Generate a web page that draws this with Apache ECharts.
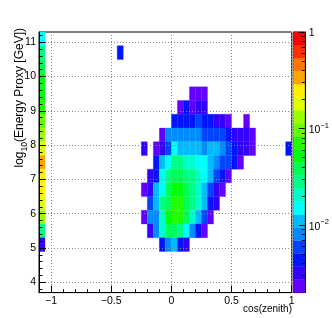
<!DOCTYPE html>
<html><head><meta charset="utf-8">
<script src="https://cdn.jsdelivr.net/npm/echarts@6/dist/echarts.min.js"></script>
<style>html,body{margin:0;padding:0;background:#fff}#c{width:332px;height:318px}</style>
</head><body><div id="c"></div>
<script>
// ---- data ----
const cosBinWidth = 0.05;
const logEBinWidth = 0.4;
const blobCosLow = [-0.25,-0.2,-0.15,-0.1,-0.05,0,0.05,0.1,0.15,0.2,0.25,0.3,0.35,0.4,0.45,0.5,0.55,0.6,0.65];
const blobLogELow = [9.3, 8.9, 8.5, 8.1, 7.7, 7.3, 6.9, 6.5, 6.1, 5.7, 5.3, 4.9];
const _ = null;
const blobValues = [
  [_,_,_,_,_,_,_,_,0.0023,0.0023,0.0023,_,_,_,_,_,_,_,_],
  [_,_,_,_,_,_,0.0023,0.0044,0.0023,0.0032,0.0032,_,_,_,_,_,_,_,_],
  [_,_,_,_,_,0.0044,0.0044,0.0044,0.0044,0.0059,0.0044,0.0044,0.0032,0.0032,0.0023,_,_,0.0023,_],
  [_,_,_,0.0023,0.0081,0.0081,0.0081,0.0081,0.0081,0.0081,0.0059,0.0059,0.0059,0.0059,0.0044,0.0032,0.0032,0.0032,0.0023],
  [0.0032,_,0.0023,0.0032,0.0059,0.015,0.011,0.011,0.011,0.011,0.0081,0.011,0.011,0.0081,0.0059,0.0044,0.0032,0.0032,0.0023],
  [_,_,0.0044,0.011,0.015,0.028,0.028,0.021,0.021,0.015,0.015,0.011,0.0081,0.0059,0.0059,0.0044,0.0023,_,_],
  [_,0.0032,0.0044,0.015,0.028,0.038,0.038,0.028,0.028,0.021,0.015,0.011,0.0059,0.0044,0.0023,_,_,_,_],
  [0.0023,0.0032,0.011,0.015,0.038,0.052,0.052,0.038,0.028,0.021,0.011,0.0059,0.0032,0.0023,_,_,_,_,_],
  [_,0.0059,0.011,0.028,0.038,0.071,0.071,0.038,0.028,0.021,0.011,0.0044,0.0032,_,_,_,_,_,_],
  [0.0023,0.0081,0.0081,0.021,0.052,0.071,0.071,0.038,0.021,0.011,0.0059,0.0023,_,_,_,_,_,_,_],
  [_,0.0032,0.0081,0.021,0.038,0.038,0.028,0.015,0.0081,0.0044,0.0023,_,_,_,_,_,_,_,_],
  [_,_,_,0.0044,0.0081,0.011,0.0044,0.0032,_,_,_,_,_,_,_,_,_,_,_]
];
const stripCosLow = -1.1;
const stripLogELow = [10.9,10.5,10.1,9.7,9.3,8.9,8.5,8.1,7.7,7.3,6.9,6.5,6.1,5.7,5.3,4.9];
const stripValues  = [0.015,0.028,0.038,0.052,0.052,0.071,0.097,0.13,0.18,0.34,0.25,0.25,0.18,0.13,0.028,0.0032];
const extraCells = [[-0.45, 10.5, 0.0044], [0.95, 7.7, 0.0044]];
const zRange = [0.002, 1];
const xRange = [-1.1, 1.0];
const yRange = [3.7, 11.3];
const xMajorTicks = [-1, -0.5, 0, 0.5, 1];
const xMinorTicks = [-0.9,-0.8,-0.7,-0.6,-0.4,-0.3,-0.2,-0.1,0.1,0.2,0.3,0.4,0.6,0.7,0.8,0.9];
const yMajorTicks = [4,5,6,7,8,9,10,11];
const yMinorTicks = [3.8,4.2,4.4,4.6,4.8,5.2,5.4,5.6,5.8,6.2,6.4,6.6,6.8,7.2,7.4,7.6,7.8,8.2,8.4,8.6,8.8,9.2,9.4,9.6,9.8,10.2,10.4,10.6,10.8,11.2];
const zMajorTicks = [0.01, 0.1, 1];
const zMinorTicks = [0.003,0.004,0.005,0.006,0.007,0.008,0.009,0.02,0.03,0.04,0.05,0.06,0.07,0.08,0.09,0.2,0.3,0.4,0.5,0.6,0.7,0.8,0.9];
const palette = ['#6300ff','#3300ff','#0014ff','#0044ff','#008bff','#00bbff','#00fffc','#00ffcc','#00ff85','#00ff55',
                 '#00ff0e','#22ff00','#69ff00','#99ff00','#e0ff00','#ffee00','#ffa700','#ff7700','#ff3000','#ff0000'];

// ---- build ----
const cells = [];
blobLogELow.forEach((y, r) => blobValues[r].forEach((v, c) => { if (v != null) cells.push([blobCosLow[c], y, v]); }));
stripLogELow.forEach((y, r) => cells.push([stripCosLow, y, stripValues[r]]));
extraCells.forEach(c => cells.push(c));

const lzMin = Math.log10(zRange[0]), lzMax = Math.log10(zRange[1]);
const nLev = palette.length, lStep = (lzMax - lzMin) / nLev;
function colorFor(v) {
  let k = Math.floor((Math.log10(v) - lzMin) / lStep);
  k = Math.max(0, Math.min(nLev - 1, k));
  return palette[k];
}
const bands = palette.map((c, k) => [lzMin + k * lStep, k]);

const FONT = 'Liberation Sans';
const fmtX = v => v === 0 ? '0' : (v < 0 ? '\u2212' + Math.abs(v) : String(v));
const fmtZ = v => { const e = Math.round(v); return e === 0 ? '{b|1}' : '{b|10}{s|\u2212' + Math.abs(e) + '}'; };

const chart = echarts.init(document.getElementById('c'), null, {renderer: 'canvas'});
const tickLine = {color: '#000', width: 1};
const noLine = {show: false, onZero: false};
chart.setOption({
  animation: false,
  grid: [
    {left: 39, top: 32, width: 252.7, height: 260.6, show: true, borderColor: '#000', borderWidth: 1, backgroundColor: 'transparent'},
    {left: 293.3, top: 32, width: 16, height: 260.6, show: true, borderColor: '#000', borderWidth: 1}
  ],
  xAxis: [
    {gridIndex: 0, type: 'value', min: xRange[0], max: xRange[1], position: 'bottom', z: 5,
     axisLine: {show: true, onZero: false, lineStyle: tickLine},
     axisTick: {show: true, inside: true, length: 7, customValues: xMajorTicks, lineStyle: tickLine},
     axisLabel: {customValues: xMajorTicks, formatter: fmtX, fontFamily: FONT, fontSize: 10.5, color: '#000', margin: 3},
     splitLine: {show: true, lineStyle: {color: '#888', type: [1, 2], width: 1}}},
    {gridIndex: 0, type: 'value', min: xRange[0], max: xRange[1], position: 'bottom', z: 5,
     axisLine: noLine, axisLabel: {show: false}, splitLine: {show: false},
     axisTick: {show: true, inside: true, length: 3.5, customValues: xMinorTicks, lineStyle: tickLine}},
    {gridIndex: 1, type: 'value', min: 0, max: 1, show: false, axisLine: noLine}
  ],
  yAxis: [
    {gridIndex: 0, type: 'value', min: yRange[0], max: yRange[1], position: 'left', z: 5,
     axisLine: {show: true, onZero: false, lineStyle: tickLine},
     axisTick: {show: true, inside: true, length: 7, customValues: yMajorTicks, lineStyle: tickLine},
     axisLabel: {customValues: yMajorTicks, fontFamily: FONT, fontSize: 10.5, color: '#000', margin: 3},
     splitLine: {show: true, lineStyle: {color: '#888', type: [1, 2], width: 1}}},
    {gridIndex: 0, type: 'value', min: yRange[0], max: yRange[1], position: 'left', z: 5,
     axisLine: noLine, axisLabel: {show: false}, splitLine: {show: false},
     axisTick: {show: true, inside: true, length: 3.5, customValues: yMinorTicks, lineStyle: tickLine}},
    {gridIndex: 1, type: 'value', min: lzMin, max: lzMax, position: 'right', z: 5,
     axisLine: {show: true, onZero: false, lineStyle: tickLine}, splitLine: {show: false},
     axisTick: {show: true, inside: true, length: 6, customValues: zMajorTicks.map(Math.log10), lineStyle: tickLine},
     axisLabel: {customValues: zMajorTicks.map(Math.log10), formatter: fmtZ, margin: 4, color: '#000',
       rich: {b: {fontFamily: FONT, fontSize: 10.5, lineHeight: 14, verticalAlign: 'bottom', color: '#000'},
              s: {fontFamily: FONT, fontSize: 7.5, lineHeight: 8, verticalAlign: 'top', color: '#000'}}}},
    {gridIndex: 1, type: 'value', min: lzMin, max: lzMax, position: 'right', z: 5,
     axisLine: noLine, axisLabel: {show: false}, splitLine: {show: false},
     axisTick: {show: true, inside: true, length: 3, customValues: zMinorTicks.map(Math.log10), lineStyle: tickLine}}
  ],
  series: [
    {type: 'custom', xAxisIndex: 0, yAxisIndex: 0, data: cells, encode: {x: 0, y: 1}, clip: true,
     renderItem: (params, api) => {
       const x0 = api.value(0), y0 = api.value(1);
       const p0 = api.coord([x0, y0 + logEBinWidth]);
       const p1 = api.coord([x0 + cosBinWidth, y0]);
       const col = colorFor(api.value(2));
       return {type: 'rect', shape: {x: p0[0], y: p0[1], width: p1[0] - p0[0], height: p1[1] - p0[1]},
               style: {fill: col, stroke: col, lineWidth: 0.3}};
     }},
    {type: 'custom', xAxisIndex: 2, yAxisIndex: 2, data: bands, encode: {y: 0},
     renderItem: (params, api) => {
       const y0 = api.value(0);
       const p0 = api.coord([0, y0 + lStep]);
       const p1 = api.coord([1, y0]);
       const col = palette[api.value(1)];
       return {type: 'rect', shape: {x: p0[0], y: p0[1], width: p1[0] - p0[0], height: p1[1] - p0[1]},
               style: {fill: col, stroke: col, lineWidth: 0.3}};
     }}
  ],
  graphic: [
    {type: 'text', right: 40, top: 304, style: {text: 'cos(zenith)', fontFamily: FONT, fontSize: 10, fill: '#000'}},
    {type: 'text', x: 21, y: 28, rotation: Math.PI / 2,
     style: {text: '{m|log}{u|10}{m|(Energy Proxy [GeV])}', align: 'right', verticalAlign: 'middle',
       rich: {m: {fontFamily: FONT, fontSize: 12, lineHeight: 14, verticalAlign: 'top', fill: '#000'},
              u: {fontFamily: FONT, fontSize: 8.5, lineHeight: 9, padding: [7, 0, 0, 0], fill: '#000'}}}}
  ]
});
</script></body></html>
